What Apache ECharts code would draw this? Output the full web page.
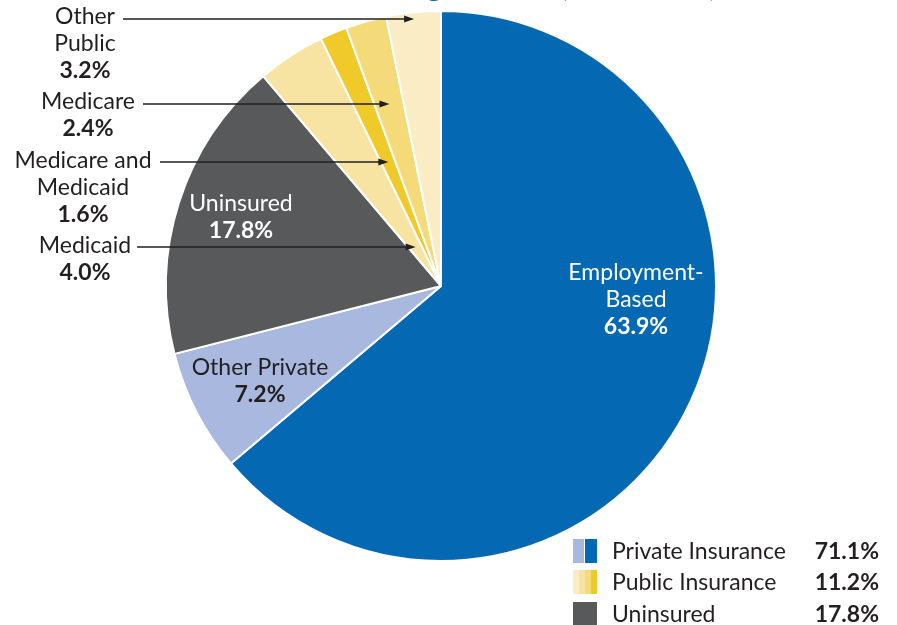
<!DOCTYPE html>
<html>
<head>
<meta charset="utf-8">
<script src="https://cdn.jsdelivr.net/npm/echarts@6/dist/echarts.min.js"></script>
<style>
html,body{margin:0;padding:0;background:#fff;}
#main{width:897px;height:625px;}
</style>
</head>
<body>
<div id="main"></div>
<script>
const categories = ['Employment-Based','Other Private','Uninsured','Medicaid','Medicare and Medicaid','Medicare','Other Public'];
const values = [63.9, 7.2, 17.8, 4.0, 1.6, 2.4, 3.2];
const sliceLabels = ['Employment-\nBased','Other Private','Uninsured','Medicaid','Medicare and\nMedicaid','Medicare','Other\nPublic'];
const sliceLabelValues = ['63.9%','7.2%','17.8%','4.0%','1.6%','2.4%','3.2%'];
const legendNames = ['Private Insurance','Public Insurance','Uninsured'];
const legendValues = ['71.1%','11.2%','17.8%'];
const titleText = 'Health Coverage Status (In Percent)';

const colors = ['#0568b3','#a8b8df','#58595b','#f8e4a2','#f0c92b','#f5da7a','#faecc4'];
const FONT = 'Lato, "Open Sans", sans-serif';
const FS = 23;
const CX = 441, CY = 286, R = 275;

// label anchor positions (annotation layout)
const labelPos = [[636,300],[260,381],[241,217],[85,259],[83,188],[88,115],[85,44]];
const labelColor = ['#fff','#231f20','#fff','#231f20','#231f20','#231f20','#231f20'];
// arrows: [dataIndex, startX, y]
const arrows = [[6,123,19],[5,143,104],[4,160,162],[3,137,247]];

const total = values.reduce((a,b)=>a+b,0);
const cum = [];
let acc = 0;
values.forEach(v=>{cum.push(acc); acc+=v;});

const graphics = [];
arrows.forEach(([i, sx, y])=>{
  const theta = (cum[i] + values[i]/2) / total * 2 * Math.PI;
  const tipX = CX + (CY - y) * Math.tan(theta);
  graphics.push({type:'line', z:100, shape:{x1:sx, y1:y, x2:tipX-8, y2:y}, style:{stroke:'#231f20', lineWidth:1.3}});
  graphics.push({type:'polygon', z:100, shape:{points:[[tipX,y],[tipX-10,y-3.5],[tipX-10,y+3.5]]}, style:{fill:'#231f20'}});
});

// legend swatches
const lx = 573, sw = 24;
const rowY = [539, 570, 602];
graphics.push({type:'rect', shape:{x:lx, y:rowY[0], width:11, height:sw}, style:{fill:colors[1]}});
graphics.push({type:'rect', shape:{x:lx+12, y:rowY[0], width:12, height:sw}, style:{fill:colors[0]}});
const pubCols = [colors[6], colors[3], colors[5], colors[4]];
pubCols.forEach((c,k)=>{
  graphics.push({type:'rect', shape:{x:lx + k*6, y:rowY[1], width:6, height:sw}, style:{fill:c}});
});
graphics.push({type:'rect', shape:{x:lx, y:rowY[2], width:sw, height:sw}, style:{fill:colors[2]}});
legendNames.forEach((n,k)=>{
  graphics.push({type:'text', style:{text:n, x:612, y:rowY[k]+13, verticalAlign:'middle', font:FS+'px '+FONT, fill:'#231f20'}});
  graphics.push({type:'text', style:{text:legendValues[k], x:879, y:rowY[k]+13, align:'right', verticalAlign:'middle', font:'bold '+FS+'px '+FONT, fill:'#231f20'}});
});
graphics.push({type:'text', style:{text:titleText, x:717, y:-14, align:'right', verticalAlign:'middle', font:'bold 31px '+FONT, fill:'#0568b3'}});

const chart = echarts.init(document.getElementById('main'), null, {renderer:'canvas'});
chart.setOption({
  animation:false,
  backgroundColor:'#fff',
  series:[{
    type:'pie',
    center:[CX, CY],
    radius:R,
    startAngle:90,
    clockwise:true,
    avoidLabelOverlap:false,
    itemStyle:{borderColor:'#fff', borderWidth:2},
    label:{
      show:true,
      position:'inside',
      formatter: p => '{n|' + sliceLabels[p.dataIndex].split('\n').join('}\n{n|') + '}\n{b|' + sliceLabelValues[p.dataIndex] + '}',
      rich:{
        n:{fontFamily:FONT, fontSize:FS, lineHeight:27, align:'center'},
        b:{fontFamily:FONT, fontSize:FS, fontWeight:'bold', lineHeight:27, align:'center'}
      }
    },
    labelLine:{show:false},
    labelLayout: p => ({x: labelPos[p.dataIndex][0], y: labelPos[p.dataIndex][1], align:'center', verticalAlign:'middle'}),
    data: categories.map((c,i)=>({
      name:c, value:values[i],
      itemStyle:{color:colors[i]},
      label:{color:labelColor[i], rich:{n:{color:labelColor[i]}, b:{color:labelColor[i]}}}
    }))
  }],
  graphic: graphics
});
</script>
</body>
</html>
